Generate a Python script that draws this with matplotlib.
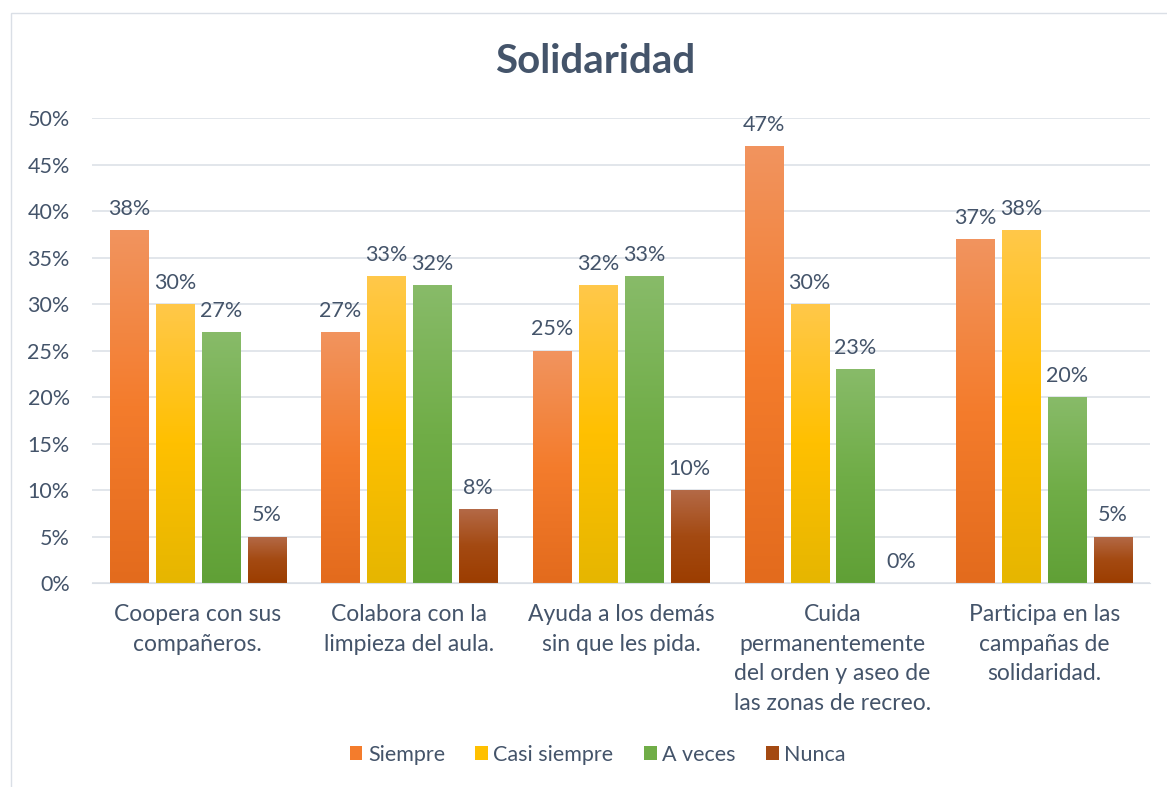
import numpy as np
import matplotlib.pyplot as plt
from matplotlib.colors import LinearSegmentedColormap
from matplotlib.patches import Rectangle

plt.rcParams['font.family'] = ['Lato', 'DejaVu Sans']

categories = ['Coopera con sus\ncompañeros.',
              'Colabora con la\nlimpieza del aula.',
              'Ayuda a los demás\nsin que les pida.',
              'Cuida\npermanentemente\ndel orden y aseo de\nlas zonas de recreo.',
              'Participa en las\ncampañas de\nsolidaridad.']
series = ['Siempre', 'Casi siempre', 'A veces', 'Nunca']
siempre = [38, 27, 25, 47, 37]
casi_siempre = [30, 33, 32, 30, 38]
a_veces = [27, 32, 33, 23, 20]
nunca = [5, 8, 10, 0, 5]
values = [siempre, casi_siempre, a_veces, nunca]

# gradient colours (top, middle, bottom)
grads = [('#F1945F', '#F47C2C', '#E36B1D'),
         ('#FFC84A', '#FFC000', '#E6B600'),
         ('#88BB69', '#70AD47', '#60A036'),
         ('#B46A48', '#A44A12', '#9C3D00')]
text_col = '#44546A'
fs = 15.5

fig = plt.figure(figsize=(11.67, 7.87), dpi=100)
ax = fig.add_axes([0.0788, 0.259, 0.9066, 0.591])

x = np.arange(len(categories))
width = 0.18
step = 0.217
for i, (vals, g) in enumerate(zip(values, grads)):
    cmap = LinearSegmentedColormap.from_list('g%d' % i, [g[2], g[1], g[0]])
    pos = x + (i - 1.5) * step
    bars = ax.bar(pos, vals, width, color=g[1], label=series[i])
    for b, v in zip(bars, vals):
        b.set_facecolor('none')
        if v > 0:
            grad = np.linspace(0, 1, 256).reshape(-1, 1)
            im = ax.imshow(grad, cmap=cmap, origin='lower', aspect='auto',
                           extent=[b.get_x(), b.get_x() + width, 0, v], zorder=2)
            im.set_clip_path(b)
        ax.text(b.get_x() + width / 2, v + 1.2, '%d%%' % v, ha='center', va='bottom',
                fontsize=fs, color=text_col)

ax.set_xlim(-0.5, len(categories) - 0.5)
ax.set_ylim(0, 50)
ax.set_yticks(range(0, 51, 5))
ax.set_yticklabels(['%d%%' % t for t in range(0, 51, 5)])
ax.set_xticks(x)
ax.set_xticklabels(categories, linespacing=1.5, fontsize=16.5)
ax.tick_params(axis='both', length=0, colors=text_col)
ax.tick_params(axis='y', pad=16, labelsize=fs)
ax.tick_params(axis='x', pad=15)
ax.grid(axis='y', color='#DADFE6', linewidth=1.1)
ax.set_axisbelow(True)
for s in ['top', 'right', 'left']:
    ax.spines[s].set_visible(False)
ax.spines['bottom'].set_color('#DADFE6')

fig.text(0.51, 0.922, 'Solidaridad', ha='center', va='center', fontsize=29,
         fontweight='bold', color=text_col)

handles = [Rectangle((0, 0), 1, 1, facecolor=g[1]) for g in grads]
fig.legend(handles, series, loc='center', bbox_to_anchor=(0.512, 0.041), ncol=4,
           frameon=False, fontsize=fs, handlelength=0.6, handleheight=0.6,
           handletextpad=0.25, columnspacing=1.4, labelcolor=text_col)

fig.patches.append(Rectangle((0.0094, -0.01), 1.0, 0.993, transform=fig.transFigure,
                             fill=False, edgecolor='#DADFE6', linewidth=1))

fig.savefig('out.png', dpi=100)
